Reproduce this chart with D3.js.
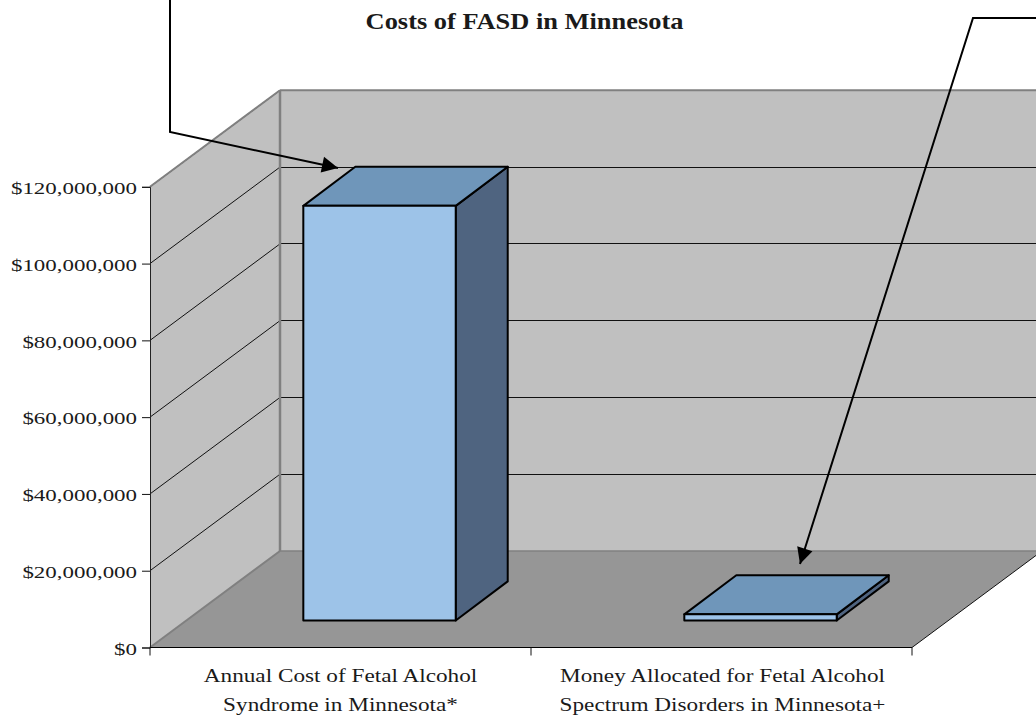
<!DOCTYPE html>
<html><head><meta charset="utf-8">
<script src="https://cdn.jsdelivr.net/npm/d3@7"></script>
<style>html,body{margin:0;padding:0;background:#fff;overflow:hidden}svg{display:block}
text{font-family:"Liberation Serif",serif;fill:#1a1a1a}</style></head><body>
<svg id="c" width="1036" height="717"></svg>
<script>
const chartTitle = "Costs of FASD in Minnesota";
const categories = ["Annual Cost of Fetal Alcohol Syndrome in Minnesota*", "Money Allocated for Fetal Alcohol Spectrum Disorders in Minnesota+"];
const categoryLines = [["Annual Cost of Fetal Alcohol","Syndrome in Minnesota*"],["Money Allocated for Fetal Alcohol","Spectrum Disorders in Minnesota+"]];
const values = [108000000, 1600000];
const tickValues = [0,20000000,40000000,60000000,80000000,100000000,120000000];

const svg = d3.select("#c");
const y = d3.scaleLinear().domain([0,120000000]).range([647.5,186.8]);
const x = d3.scaleBand().domain(categories).range([150,912]).paddingInner(0).paddingOuter(0);
const depthX = 130, depthY = 96.5;
const P = (px, v, fx, fy) => [px + fx*depthX, y(v) - fy*depthY];
const poly = pts => pts.map(p=>p.join(",")).join(" ");
const x0 = x.range()[0], x1 = x.range()[1], vMax = 120000000;
const stretch = (sel, f) => sel.each(function(){ const n=this; const l=n.getComputedTextLength(); n.setAttribute("textLength", l*f); n.setAttribute("lengthAdjust","spacingAndGlyphs"); });

// walls and floor
svg.append("polygon").attr("points", poly([P(x0+130,vMax,0,1),P(1100,vMax,0,1),P(1100,0,0,1),P(x0,0,1,1)])).attr("fill","#c0c0c0");
svg.append("polygon").attr("points", poly([P(x0,vMax,0,0),P(x0,vMax,1,1),P(x0,0,1,1),P(x0,0,0,0)])).attr("fill","#c0c0c0");
svg.append("polygon").attr("points", poly([P(x0,0,0,0),P(x0,0,1,1),P(x1,0,1,1),P(x1,0,0,0)])).attr("fill","#969696");

// gridlines
const grid = tickValues.filter(d=>d>0 && d<vMax+1);
grid.forEach(v=>{
  const a=P(x0,v,0,0), b=P(x0,v,1,1);
  svg.append("line").attr("x1",a[0]).attr("y1",a[1]).attr("x2",b[0]).attr("y2",b[1]).attr("stroke","#111").attr("stroke-width",1);
  svg.append("line").attr("x1",b[0]).attr("y1",Math.floor(b[1])+.5).attr("x2",1036).attr("y2",Math.floor(b[1])+.5).attr("stroke","#111").attr("stroke-width",1);
});
svg.append("line").attr("x1",x0).attr("y1",y(vMax)).attr("x2",x0+130).attr("y2",y(vMax)-depthY).attr("stroke","#808080").attr("stroke-width",2);
svg.append("line").attr("x1",x0).attr("y1",y(0)).attr("x2",x0+130).attr("y2",y(0)-depthY).attr("stroke","#808080").attr("stroke-width",2);
svg.append("line").attr("x1",x0+130).attr("y1",y(vMax)-depthY).attr("x2",x0+130).attr("y2",y(0)-depthY).attr("stroke","#808080").attr("stroke-width",2.5);
svg.append("line").attr("x1",x0+130).attr("y1",y(vMax)-depthY).attr("x2",1036).attr("y2",y(vMax)-depthY).attr("stroke","#808080").attr("stroke-width",2);
svg.append("line").attr("x1",x0+130).attr("y1",y(0)-depthY).attr("x2",1036).attr("y2",y(0)-depthY).attr("stroke","#808080").attr("stroke-width",1.5);
svg.append("line").attr("x1",x1).attr("y1",y(0)).attr("x2",x1+130).attr("y2",y(0)-depthY).attr("stroke","#111").attr("stroke-width",1);

// bars
const frontX=.304, frontY=.28, backX=.704, backY=.685;
categories.forEach((c,i)=>{
  const v=values[i], w=x.bandwidth()*.4, l=x(c)+x.bandwidth()*.3-.5, r=l+w;
  const g=svg.append("g").attr("stroke","#000").attr("stroke-width",2).attr("stroke-linejoin","round");
  g.append("polygon").attr("points",poly([P(r,0,frontX,frontY),P(r,0,backX,backY),P(r,v,backX,backY),P(r,v,frontX,frontY)])).attr("fill","#4f6480");
  g.append("polygon").attr("points",poly([P(l,v,frontX,frontY),P(l,v,backX,backY),P(r,v,backX,backY),P(r,v,frontX,frontY)])).attr("fill","#6f96ba");
  g.append("polygon").attr("points",poly([P(l,0,frontX,frontY),P(l,v,frontX,frontY),P(r,v,frontX,frontY),P(r,0,frontX,frontY)])).attr("fill","#9dc3e8");
});

// axes
const yAxis = d3.axisLeft(y).tickValues(tickValues).tickSize(8).tickPadding(5)
  .tickFormat(d3.format("$,.0f"));
const gy = svg.append("g").attr("transform",`translate(${x0},0)`).call(yAxis);
gy.selectAll("text").attr("font-size",17.5).attr("dy","0.39em").attr("fill","#1a1a1a").attr("font-family",'"Liberation Serif",serif').call(stretch,1.31);
gy.select(".domain").attr("stroke","#222");
gy.selectAll(".tick line").attr("stroke","#111");

const xa = svg.append("g").attr("transform",`translate(0,${y(0)})`);
xa.append("line").attr("x1",x0).attr("x2",x1).attr("stroke","#000").attr("stroke-width",1.2);
[x0, x0+x.step(), x1].forEach(t=>xa.append("line").attr("x1",t).attr("x2",t).attr("y2",8).attr("stroke","#111"));
categories.forEach((c,i)=>{
  categoryLines[i].forEach((ln,j)=>{
    svg.append("text").attr("text-anchor","middle").attr("font-size",18.5).attr("x",x(c)+x.bandwidth()/2+(i?1:0)).attr("y",682+j*29).text(ln).call(stretch,1.255);
  });
});

// title
svg.append("text").attr("x",524.5).attr("y",29).attr("text-anchor","middle").attr("font-size",24).attr("font-weight","bold").attr("fill","#000").text(chartTitle).call(stretch,1.10);

// callout arrows
const line=d3.line();
function arrow(pts){
  svg.append("path").attr("d",line(pts)).attr("fill","none").attr("stroke","#000").attr("stroke-width",2);
  const a=pts[pts.length-2], b=pts[pts.length-1], ang=Math.atan2(b[1]-a[1],b[0]-a[0]);
  const L=16,W=8, bx=b[0]-L*Math.cos(ang), by=b[1]-L*Math.sin(ang);
  svg.append("polygon").attr("fill","#000").attr("points",poly([b,[bx-W*Math.sin(ang),by+W*Math.cos(ang)],[bx+W*Math.sin(ang),by-W*Math.cos(ang)]]));
}
arrow([[170,0],[170,132],[338,168]]);
arrow([[1036,18],[973,18],[800,564]]);
</script></body></html>
